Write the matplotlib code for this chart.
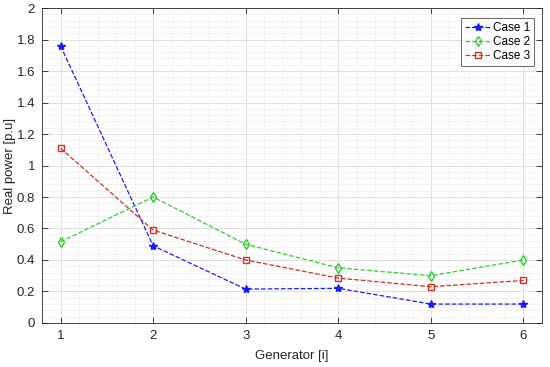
import matplotlib
matplotlib.use("Agg")
import matplotlib.pyplot as plt
from matplotlib.ticker import MultipleLocator

plt.rcParams['font.family'] = ['Liberation Sans', 'DejaVu Sans']

generators = [1, 2, 3, 4, 5, 6]
case1 = [1.76, 0.49, 0.215, 0.22, 0.12, 0.12]
case2 = [0.515, 0.80, 0.50, 0.35, 0.30, 0.40]
case3 = [1.11, 0.59, 0.40, 0.285, 0.23, 0.27]
labels = ['Case 1', 'Case 2', 'Case 3']

fig = plt.figure(figsize=(5.5, 3.67), dpi=100)
ax = fig.add_axes([0.0764, 0.12, 0.909, 0.858])

ax.plot(generators, case1, '--', color='#1a1aff', marker='*', markersize=6,
        linewidth=0.9, label=labels[0])
ax.plot(generators, case2, '--', color='#33cc33', marker='d', markersize=5,
        markerfacecolor='none', linewidth=0.9, label=labels[1])
ax.plot(generators, case3, '--', color='#cc3322', marker='s', markersize=4.5,
        markerfacecolor='none', linewidth=0.9, label=labels[2])

ax.set_xlim(0.8, 6.2)
ax.set_ylim(0, 2)
ax.xaxis.set_major_locator(MultipleLocator(1))
ax.xaxis.set_minor_locator(MultipleLocator(0.2))
ax.yaxis.set_major_locator(MultipleLocator(0.2))
ax.yaxis.set_minor_locator(MultipleLocator(0.04))
ax.set_yticks([0, 0.2, 0.4, 0.6, 0.8, 1, 1.2, 1.4, 1.6, 1.8, 2])
ax.set_yticklabels(['0', '0.2', '0.4', '0.6', '0.8', '1', '1.2', '1.4', '1.6', '1.8', '2'])

ax.grid(which='major', color='#dcdcdc', linewidth=0.6)
ax.grid(which='minor', color='#efefef', linewidth=0.5)
ax.set_axisbelow(True)

ax.tick_params(which='both', direction='in', top=True, right=True,
               labelsize=9.5, colors='#262626')
ax.tick_params(which='minor', length=0)
ax.tick_params(which='major', length=4, width=0.6, pad=5)
for s in ax.spines.values():
    s.set_color('#262626')
    s.set_linewidth(0.6)

ax.set_xlabel('Generator [i]', fontsize=9.5, color='#262626')
ax.xaxis.set_label_coords(0.5, -0.085)
fig.text(10 / 550, 1 - 165.5 / 367, 'Real power [p.u]', rotation=90,
         ha='center', va='center', fontsize=9.5, color='#262626')

leg = ax.legend(loc='upper right', bbox_to_anchor=(0.984, 0.968),
                borderaxespad=0, fontsize=8.5, frameon=True, fancybox=False,
                edgecolor='#262626', handlelength=2.2, borderpad=0.3,
                labelspacing=0.2, handletextpad=0.2, handleheight=0.6)
leg.get_frame().set_linewidth(0.6)

fig.savefig('out.png', dpi=100)
